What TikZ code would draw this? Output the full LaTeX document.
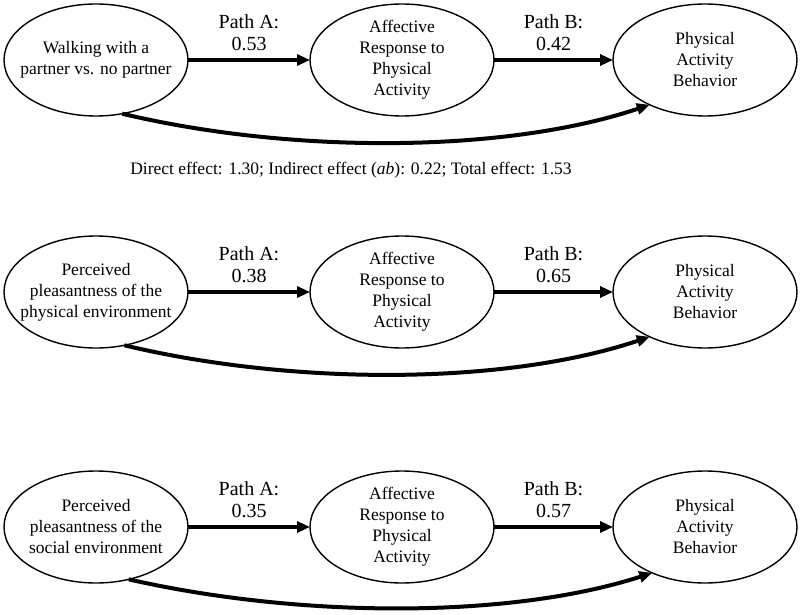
\documentclass[tikz,border=0pt]{standalone}
\usepackage{fontspec}
\setmainfont{Liberation Serif}
\usepackage{tikz}
\usetikzlibrary{calc,arrows.meta,shapes.geometric}

\begin{document}
\begin{tikzpicture}[x=1pt,y=-1pt,inner sep=0pt,outer sep=0pt,
    var_ell/.style={ellipse,draw,line width=1.4pt,inner xsep=-14pt,minimum width=184pt,minimum height=112pt,align=center,font=\fontsize{17.5}{21}\selectfont},
    path_arr/.style={line width=4pt,-{Triangle[length=13pt,width=11pt]}},
    path_lbl/.style={align=center,above=9pt,font=\fontsize{20}{22}\selectfont}]
    %
    \useasboundingbox (0,0) rectangle (800,615);

    % partner model
    \node[var_ell] (walk) at (96,60) {Walking with a\\partner vs. no partner};
    \node[var_ell] (aff_one) at (402,60) {Affective\\Response to\\Physical\\Activity};
    \node[var_ell] (beh_one) at (705,60) {Physical\\Activity\\Behavior};
    \draw[path_arr] (walk) -- node[path_lbl] {Path A:\\0.53} (aff_one);
    \draw[path_arr] (aff_one) -- node[path_lbl] {Path B:\\0.42} (beh_one);
    \draw[path_arr] (walk.-64) .. controls +(167,40) and +(-146,49) .. (beh_one.-141);
    \node[font=\fontsize{17.5}{20}\selectfont] (effects) at (351,170)
    {Direct effect: 1.30; Indirect effect (\textit{ab}): 0.22; Total effect: 1.53};

    % physical environment model
    \node[var_ell] (phys_env) at (96,292) {Perceived\\pleasantness of the\\physical environment};
    \node[var_ell] (aff_two) at (402,292) {Affective\\Response to\\Physical\\Activity};
    \node[var_ell] (beh_two) at (705,292) {Physical\\Activity\\Behavior};
    \draw[path_arr] (phys_env) -- node[path_lbl] {Path A:\\0.38} (aff_two);
    \draw[path_arr] (aff_two) -- node[path_lbl] {Path B:\\0.65} (beh_two);
    \draw[path_arr] (phys_env.-62) .. controls +(167,40) and +(-146,49) .. (beh_two.-141);

    % social environment model
    \node[var_ell] (soc_env) at (96,527) {Perceived\\pleasantness of the\\social environment};
    \node[var_ell] (aff_three) at (402,527) {Affective\\Response to\\Physical\\Activity};
    \node[var_ell] (beh_three) at (705,527) {Physical\\Activity\\Behavior};
    \draw[path_arr] (soc_env) -- node[path_lbl] {Path A:\\0.35} (aff_three);
    \draw[path_arr] (aff_three) -- node[path_lbl] {Path B:\\0.57} (beh_three);
    \draw[path_arr] (soc_env.-58) .. controls +(167,38) and +(-146,47) .. (beh_three.-139);

\end{tikzpicture}
\end{document}
